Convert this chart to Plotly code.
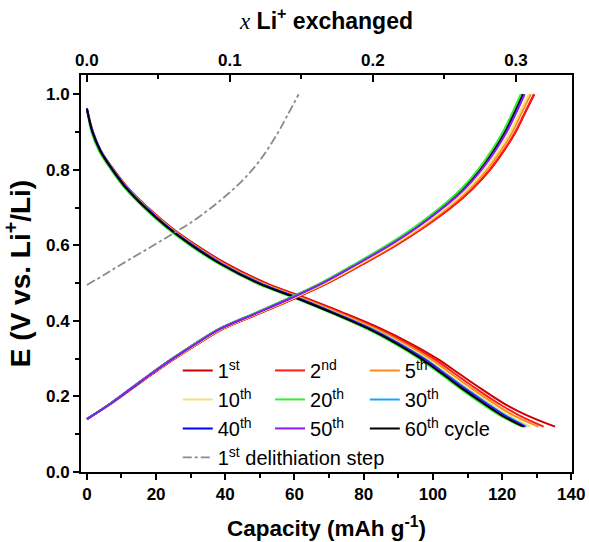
import plotly.graph_objects as go

# ---------------- data ----------------
# Discharge (lithiation) branch: voltage levels shared by all cycles
V_dis = [0.962, 0.90, 0.85, 0.80, 0.75, 0.70, 0.65, 0.60, 0.55, 0.50,
         0.46, 0.42, 0.38, 0.34, 0.30, 0.26, 0.22, 0.18, 0.15, 0.12]
# Charge (delithiation) branch voltage levels
V_ch = [0.14, 0.18, 0.22, 0.26, 0.30, 0.34, 0.38, 0.42, 0.46, 0.50,
        0.55, 0.60, 0.65, 0.70, 0.75, 0.80, 0.85, 0.90, 0.95, 1.00]

cycle_names = ["1<sup>st</sup>", "2<sup>nd</sup>", "5<sup>th</sup>",
               "10<sup>th</sup>", "20<sup>th</sup>", "30<sup>th</sup>",
               "40<sup>th</sup>", "50<sup>th</sup>", "60<sup>th</sup> cycle"]
cycle_colors = ["#cc0000", "#ff1a1a", "#ff8c1a", "#f2e07a", "#33ee33",
                "#1aa3ff", "#0000ff", "#8c1aff", "#000000"]

cap_dis_1 = [0, 1.8, 4.1, 7.8, 12.1, 17.6, 24.0, 31.7, 40.6, 51.8, 63.4, 74.5, 84.8, 93.6, 101.2, 107.6, 114.0, 120.8, 127.2, 135.3]
cap_dis_2 = [0, 1.7, 4.0, 7.7, 12.0, 17.5, 23.8, 31.4, 40.2, 51.3, 62.8, 73.8, 84.0, 92.7, 100.2, 106.4, 112.6, 119.2, 124.9, 132.0]
cap_dis_5 = [0, 1.7, 4.0, 7.6, 11.9, 17.3, 23.6, 31.1, 39.8, 50.8, 62.2, 73.1, 83.2, 91.8, 99.2, 105.3, 111.4, 117.9, 123.3, 130.5]
cap_dis_10 = [0, 1.7, 4.0, 7.5, 11.8, 17.1, 23.4, 30.8, 39.4, 50.2, 61.5, 72.3, 82.3, 90.8, 98.1, 104.2, 110.2, 116.6, 121.8, 128.2]
cap_dis_20 = [0, 1.3, 3.5, 7.0, 11.1, 16.4, 22.5, 29.8, 38.3, 48.9, 60.2, 70.8, 80.6, 88.9, 96.0, 102.1, 108.0, 114.2, 119.3, 125.8]
cap_dis_30 = [0, 1.7, 4.0, 7.6, 11.8, 17.1, 23.3, 30.8, 39.3, 50.1, 61.3, 72.0, 82.0, 90.4, 97.6, 103.7, 109.7, 116.0, 121.0, 127.0]
cap_dis_40 = [0, 1.7, 4.0, 7.5, 11.7, 17.0, 23.2, 30.6, 39.1, 49.9, 61.1, 71.7, 81.7, 90.0, 97.2, 103.3, 109.2, 115.5, 120.5, 126.6]
cap_dis_50 = [0, 1.6, 3.9, 7.4, 11.6, 16.9, 23.1, 30.5, 39.0, 49.7, 60.9, 71.5, 81.4, 89.7, 96.9, 103.0, 108.9, 115.2, 120.2, 126.4]
cap_dis_60 = [0, 1.6, 3.9, 7.4, 11.5, 16.8, 23.0, 30.3, 38.8, 49.5, 60.7, 71.3, 81.2, 89.5, 96.6, 102.7, 108.6, 114.9, 119.9, 126.2]

cap_ch_1 = [0, 6.8, 12.9, 19.0, 25.4, 32.2, 39.6, 49.9, 60.1, 69.6, 79.7, 89.3, 97.8, 105.3, 111.5, 116.5, 120.5, 123.9, 126.6, 129.3]
cap_ch_2 = [0, 6.8, 12.9, 19.0, 25.3, 32.1, 39.6, 49.9, 60.0, 69.5, 79.6, 89.2, 97.7, 105.2, 111.4, 116.4, 120.4, 123.8, 126.5, 129.2]
cap_ch_5 = [0, 6.8, 12.8, 18.8, 25.2, 31.9, 39.3, 49.5, 59.6, 69.1, 79.1, 88.6, 97.1, 104.4, 110.7, 115.6, 119.6, 123.0, 125.6, 128.3]
cap_ch_10 = [0, 6.7, 12.7, 18.7, 25.0, 31.8, 39.1, 49.3, 59.4, 68.7, 78.7, 88.2, 96.6, 103.9, 110.1, 115.0, 119.0, 122.4, 125.0, 127.7]
cap_ch_20 = [0, 6.6, 12.5, 18.4, 24.6, 31.2, 38.4, 48.4, 58.3, 67.5, 77.3, 86.6, 94.9, 102.1, 108.2, 113.0, 116.9, 120.2, 122.9, 125.4]
cap_ch_30 = [0, 6.6, 12.6, 18.5, 24.7, 31.4, 38.6, 48.7, 58.7, 67.9, 77.8, 87.1, 95.5, 102.7, 108.8, 113.7, 117.6, 120.9, 123.6, 126.2]
cap_ch_40 = [0, 6.7, 12.6, 18.5, 24.8, 31.4, 38.7, 48.8, 58.8, 68.0, 77.9, 87.3, 95.7, 102.9, 109.1, 113.9, 117.8, 121.2, 123.9, 126.4]
cap_ch_50 = [0, 6.7, 12.6, 18.6, 24.8, 31.5, 38.7, 48.8, 58.8, 68.1, 78.0, 87.4, 95.8, 103.0, 109.2, 114.0, 118.0, 121.3, 124.0, 126.5]
cap_ch_60 = [0, 6.6, 12.6, 18.5, 24.7, 31.3, 38.6, 48.6, 58.5, 67.8, 77.6, 87.0, 95.3, 102.5, 108.6, 113.5, 117.4, 120.7, 123.4, 125.9]

cap_dis = [cap_dis_1, cap_dis_2, cap_dis_5, cap_dis_10, cap_dis_20,
           cap_dis_30, cap_dis_40, cap_dis_50, cap_dis_60]
cap_ch = [cap_ch_1, cap_ch_2, cap_ch_5, cap_ch_10, cap_ch_20,
          cap_ch_30, cap_ch_40, cap_ch_50, cap_ch_60]

# 1st delithiation step (grey dash-dot)
deli_cap = [0, 5, 10, 15, 20, 25, 30, 35, 40, 45, 50, 55, 58, 61.2]
deli_V = [0.495, 0.522, 0.550, 0.577, 0.604, 0.632, 0.660, 0.693, 0.730,
          0.772, 0.825, 0.895, 0.945, 1.0]

# top axis: x Li+ exchanged (0.3 corresponds to ~124 mAh/g)
x_per_cap = 0.3 / 124.0
top_ticks = [0.0, 0.1, 0.2, 0.3]

legend_of = ["legend", "legend2", "legend3",
             "legend", "legend2", "legend3",
             "legend", "legend2", "legend3"]
# drawing order of the charge branches (as layered in the reference)
charge_order = [0, 1, 2, 3, 5, 6, 8, 4, 7]

# ---------------- figure ----------------
fig = go.Figure()
line_shape = dict(width=2, shape="spline", smoothing=1.0)

for i in range(9):
    fig.add_trace(go.Scatter(
        x=cap_dis[i], y=V_dis, mode="lines", name=cycle_names[i],
        legendgroup=f"c{i}", line=dict(color=cycle_colors[i], **line_shape),
        legend=legend_of[i]))

for i in charge_order:
    fig.add_trace(go.Scatter(
        x=cap_ch[i], y=V_ch, mode="lines", name=cycle_names[i],
        legendgroup=f"c{i}", showlegend=False,
        line=dict(color=cycle_colors[i], **line_shape),
        legend=legend_of[i]))

fig.add_trace(go.Scatter(
    x=deli_cap, y=deli_V, mode="lines", name="1<sup>st</sup> delithiation step",
    line=dict(color="#8a8a8a", width=1.8, dash="dashdot", shape="spline", smoothing=1.0),
    legend="legend"))

# invisible trace to bind the top axis
fig.add_trace(go.Scatter(x=[top_ticks[0]], y=[0.5], xaxis="x2", mode="markers",
                         marker=dict(opacity=0), showlegend=False, hoverinfo="skip"))

font_fam = "Arial, Liberation Sans, sans-serif"
xmin, xmax = -1.7, 140.2

axis_common = dict(showline=True, linecolor="black", linewidth=2,
                   showgrid=False, zeroline=False, automargin=False,
                   tickfont=dict(family=font_fam, size=17, color="black", weight="bold"),
                   tickcolor="black", tickwidth=1.5)

fig.update_layout(
    width=589, height=542,
    margin=dict(l=81, r=17, t=75, b=70, autoexpand=False),
    paper_bgcolor="white", plot_bgcolor="white",
    font=dict(family=font_fam, color="black"),
    xaxis=dict(range=[xmin, xmax], dtick=20, tick0=0, ticks="outside", ticklen=6,
               minor=dict(dtick=10, ticks="outside", ticklen=4, tickcolor="black", tickwidth=1.5),
               title=dict(text="Capacity (mAh g<sup>-1</sup>)", standoff=17,
                          font=dict(family=font_fam, size=22.5, color="black", weight="bold")),
               mirror=False, **axis_common),
    xaxis2=dict(overlaying="x", side="top", anchor="y",
                range=[xmin * x_per_cap, xmax * x_per_cap],
                tickvals=top_ticks, tickformat=".1f", ticks="inside", ticklen=7,
                minor=dict(dtick=0.05, tick0=0, ticks="inside", ticklen=4, tickcolor="black", tickwidth=1.5),
                title=dict(text="<span style='font-family:Liberation Serif;font-style:italic;font-weight:normal'>x</span> Li<sup>+</sup> exchanged",
                           standoff=15,
                           font=dict(family=font_fam, size=23, color="black", weight="bold")),
                **axis_common),
    yaxis=dict(range=[0, 1.051], dtick=0.2, tick0=0, tickformat=".1f",
               ticks="outside", ticklen=6,
               minor=dict(dtick=0.1, ticks="outside", ticklen=4, tickcolor="black", tickwidth=1.5),
               title=dict(text="E (V vs. Li<sup>+</sup>/Li)", standoff=10,
                          font=dict(family=font_fam, size=28, color="black", weight="bold")),
               mirror=True, **axis_common),
    showlegend=True,
)

leg_common = dict(bgcolor="rgba(0,0,0,0)", borderwidth=0, orientation="v",
                  xanchor="left", yanchor="top", y=0.305, tracegroupgap=0,
                  font=dict(family=font_fam, size=20, color="black"))
fig.update_layout(
    legend=dict(x=0.197, **leg_common),
    legend2=dict(x=0.385, **leg_common),
    legend3=dict(x=0.578, **leg_common),
)

fig.write_html("out.html")
